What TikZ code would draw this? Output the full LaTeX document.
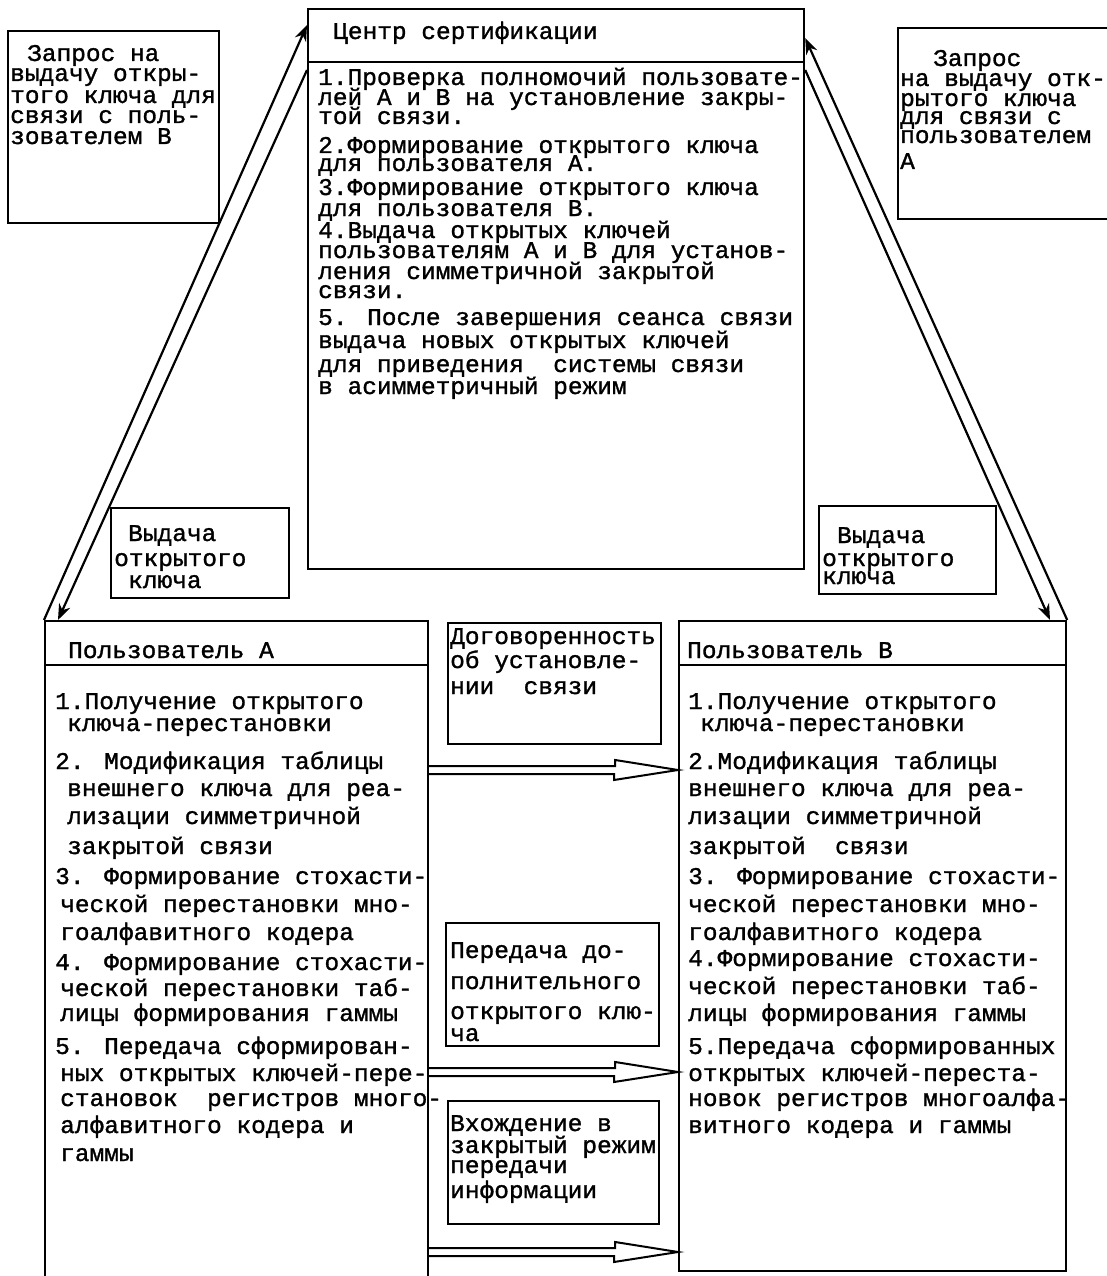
\documentclass[tikz,border=0pt]{standalone}
\usepackage{fontspec}
\newfontfamily\typewr[FakeStretch=1.02,FakeBold=1.3]{Liberation Mono}
\usetikzlibrary{arrows.meta}

\tikzset{
    frame/.style={draw, line width=2.2pt, inner sep=0pt, anchor=north west},
    row/.style={anchor=base west, inner sep=0pt, font=\typewr\fontsize{24}{24}\selectfont},
    diag/.style={line width=2.2pt, -{Stealth[length=16pt, width=12pt]}},
}

\newcommand{\hollowarrow}[1]{%
    \draw[line width=2pt, line join=miter]
        (ua.east |- 0,#1) ++(0,-4) -- ++(186,0) -- ++(0,-6)
        -- (ub.west |- 0,#1)
        -- ++(-64,10) -- ++(0,-6) -- ++(-186,0);}

\begin{document}
\begin{tikzpicture}[x=1pt, y=-1pt]

        \useasboundingbox
            (0,0) rectangle (1106,1276);

        \node[frame, minimum width=496, minimum height=560] (ca) at (307,8) {};
        \node[frame, minimum width=211, minimum height=192] (reqa) at (7,30) {};
        \node[frame, minimum width=215, minimum height=191] (reqb) at (897,27) {};
        \node[frame, minimum width=178, minimum height=90] (keya) at (110,507) {};
        \node[frame, minimum width=177, minimum height=88] (keyb) at (818,505) {};
        \node[frame, minimum width=383, minimum height=690] (ua) at (44,620) {};
        \node[frame, minimum width=387, minimum height=650] (ub) at (678,620) {};
        \node[frame, minimum width=213, minimum height=121] (agree) at (447,622) {};
        \node[frame, minimum width=213, minimum height=123] (extra) at (445,922) {};
        \node[frame, minimum width=211, minimum height=123] (enter) at (447,1100) {};

        \draw[line width=2.2pt]
            (ca.west |- 0,62) -- (ca.east |- 0,62)
            (ua.west |- 0,665) -- (ua.east |- 0,665)
            (ub.west |- 0,665) -- (ub.east |- 0,665);

        \draw[diag]
            (ua.north west) -- (ca.west |- 0,25);

        \draw[diag]
            (ca.west |- 0,70) -- (ua.north west -| 58,0);

        \draw[diag]
            (ub.north east) -- (ca.east |- 0,38);

        \draw[diag]
            (ca.east |- 0,70) -- (ub.north east -| 1050,0);

        \hollowarrow{770}
        \hollowarrow{1072}
        \hollowarrow{1252}

        \foreach \x/\y/\txt [count=\i] in {
            333/33/{Центр сертификации},
            318/79/{1.Проверка полномочий пользовате-},
            318/99/{лей А и В на установление закры-},
            318/118/{той связи.},
            318/147/{2.Формирование открытого ключа},
            318/165/{для пользователя А.},
            318/189/{3.Формирование открытого ключа},
            318/210/{для пользователя В.},
            318/232/{4.Выдача открытых ключей},
            318/252/{пользователям А и В для установ-},
            318/273/{ления симметричной закрытой},
            318/292/{связи.},
            318/319/{5. После завершения сеанса связи},
            318/342/{выдача новых открытых ключей},
            318/366/{для приведения~~системы связи},
            318/388/{в асимметричный режим}}
            \node[row] (ca-\i) at (\x,\y+6) {\txt};

        \foreach \x/\y/\txt [count=\i] in {
            27/55/{Запрос на},
            10/75/{выдачу откры-},
            10/97/{того ключа для},
            10/117/{связи с поль-},
            10/138/{зователем В}}
            \node[row] (reqa-\i) at (\x,\y+6) {\txt};

        \foreach \x/\y/\txt [count=\i] in {
            933/60/{Запрос},
            900/80/{на выдачу отк-},
            900/100/{рытого ключа},
            900/118/{для связи с},
            900/137/{пользователем},
            900/163/{А}}
            \node[row] (reqb-\i) at (\x,\y+6) {\txt};

        \foreach \x/\y/\txt [count=\i] in {
            128/535/{Выдача},
            114/560/{открытого},
            128/582/{ключа}}
            \node[row] (keya-\i) at (\x,\y+6) {\txt};

        \foreach \x/\y/\txt [count=\i] in {
            837/537/{Выдача},
            822/560/{открытого},
            822/578/{ключа}}
            \node[row] (keyb-\i) at (\x,\y+6) {\txt};

        \foreach \x/\y/\txt [count=\i] in {
            450/638/{Договоренность},
            450/662/{об установле-},
            450/688/{нии~~связи}}
            \node[row] (agree-\i) at (\x,\y+6) {\txt};

        \foreach \x/\y/\txt [count=\i] in {
            450/952/{Передача до-},
            450/983/{полнительного},
            450/1013/{открытого клю-},
            450/1035/{ча}}
            \node[row] (extra-\i) at (\x,\y+6) {\txt};

        \foreach \x/\y/\txt [count=\i] in {
            450/1125/{Вхождение в},
            450/1147/{закрытый режим},
            450/1167/{передачи},
            450/1192/{информации}}
            \node[row] (enter-\i) at (\x,\y+6) {\txt};

        \foreach \x/\y/\txt [count=\i] in {
            68/652/{Пользователь А},
            55/703/{1.Получение открытого},
            67/725/{ключа-перестановки},
            55/763/{2. Модификация таблицы},
            67/790/{внешнего ключа для реа-},
            67/818/{лизации симметричной},
            67/848/{закрытой связи},
            55/878/{3. Формирование стохасти-},
            60/906/{ческой перестановки мно-},
            60/934/{гоалфавитного кодера},
            55/964/{4. Формирование стохасти-},
            60/990/{ческой перестановки таб-},
            60/1015/{лицы формирования гаммы},
            55/1048/{5. Передача сформирован-},
            60/1075/{ных открытых ключей-пере-},
            60/1100/{становок~~регистров много-},
            60/1127/{алфавитного кодера и},
            60/1155/{гаммы}}
            \node[row] (ua-\i) at (\x,\y+6) {\txt};

        \foreach \x/\y/\txt [count=\i] in {
            687/652/{Пользователь В},
            688/703/{1.Получение открытого},
            700/725/{ключа-перестановки},
            688/763/{2.Модификация таблицы},
            688/790/{внешнего ключа для реа-},
            688/818/{лизации симметричной},
            688/848/{закрытой~~связи},
            688/878/{3. Формирование стохасти-},
            688/906/{ческой перестановки мно-},
            688/934/{гоалфавитного кодера},
            688/960/{4.Формирование стохасти-},
            688/988/{ческой перестановки таб-},
            688/1015/{лицы формирования гаммы},
            688/1048/{5.Передача сформированных},
            688/1075/{открытых ключей-переста-},
            688/1100/{новок регистров многоалфа-},
            688/1127/{витного кодера и гаммы}}
            \node[row] (ub-\i) at (\x,\y+6) {\txt};

\end{tikzpicture}
\end{document}
